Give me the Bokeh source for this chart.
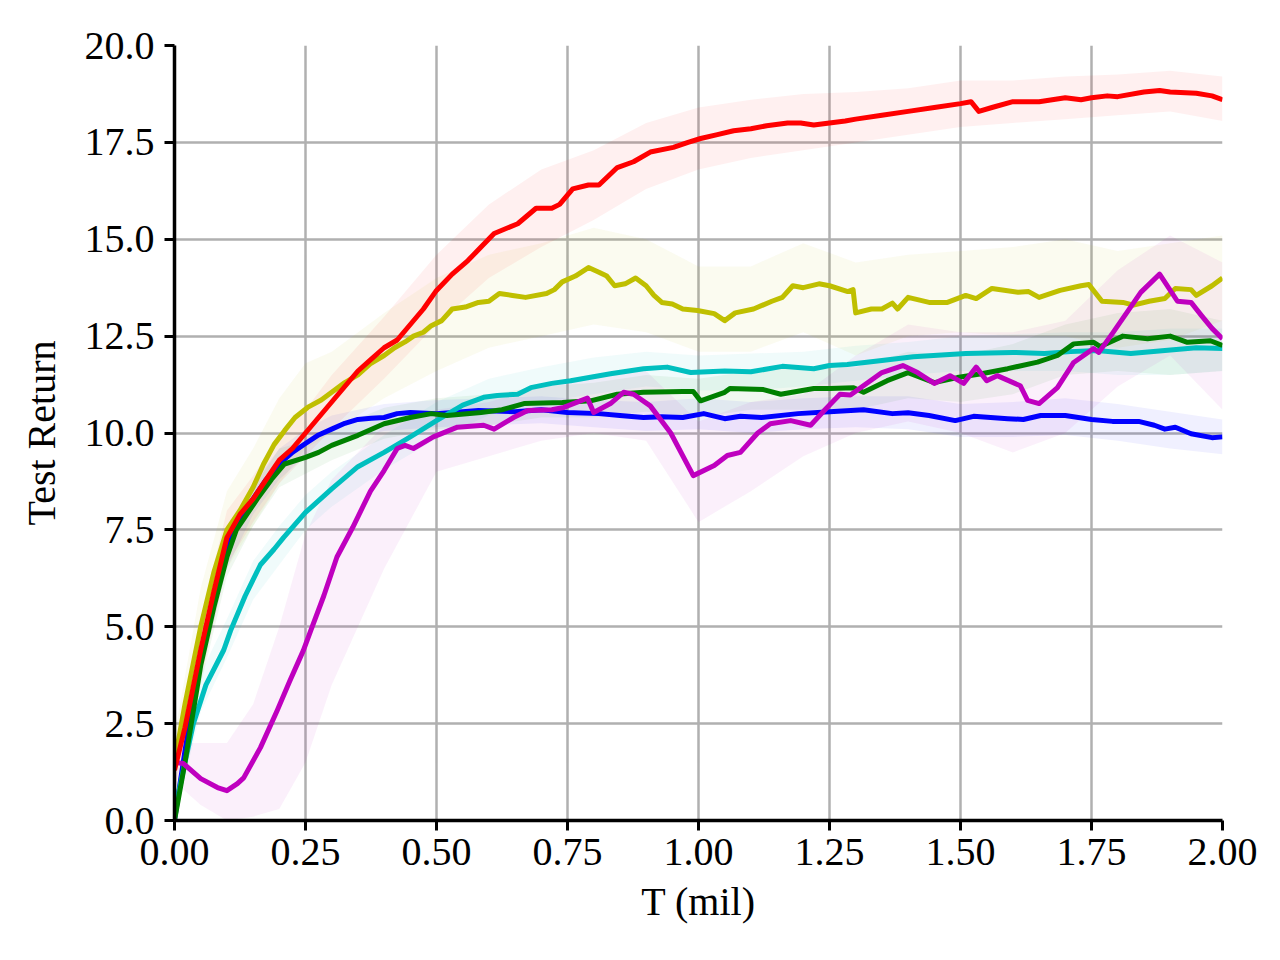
from bokeh.plotting import figure
from bokeh.models import Range1d, FixedTicker, PrintfTickFormatter
from bokeh.embed import file_html
from bokeh.resources import INLINE

# ---------------- data ----------------
red_x = [0.0, 0.02, 0.05, 0.075, 0.1, 0.125, 0.15, 0.175, 0.2, 0.225, 0.25, 0.275, 0.3, 0.325, 0.35, 0.375, 0.4, 0.425,
         0.45, 0.475, 0.5, 0.53, 0.56, 0.585, 0.61, 0.655, 0.69, 0.72, 0.735, 0.76, 0.79, 0.81, 0.845, 0.876, 0.908,
         0.952, 0.98, 1.004, 1.036, 1.067, 1.1, 1.13, 1.17, 1.195, 1.22, 1.25, 1.28, 1.3, 1.35, 1.4, 1.45, 1.5, 1.52,
         1.535, 1.56, 1.6, 1.65, 1.7, 1.73, 1.75, 1.78, 1.8, 1.85, 1.88, 1.9, 1.95, 1.98, 2.0]
red_y = [1.3, 2.4, 4.4, 5.9, 7.3, 7.9, 8.3, 8.8, 9.3, 9.6, 10.0, 10.4, 10.8, 11.2, 11.6, 11.9, 12.2, 12.4,
         12.8, 13.2, 13.68, 14.1, 14.45, 14.8, 15.15, 15.4, 15.8, 15.8, 15.9, 16.3, 16.4, 16.4, 16.85, 17.0, 17.25,
         17.37, 17.5, 17.6, 17.7, 17.8, 17.85, 17.93, 18.0, 18.0, 17.95, 18.0, 18.05, 18.1, 18.2, 18.3, 18.4, 18.5, 18.55,
         18.3, 18.4, 18.55, 18.55, 18.65, 18.6, 18.65, 18.7, 18.68, 18.8, 18.84, 18.8, 18.77, 18.7, 18.6]

yel_x = [0.0, 0.02, 0.05, 0.075, 0.1, 0.125, 0.15, 0.17, 0.19, 0.21, 0.23, 0.254, 0.28, 0.3, 0.325, 0.35, 0.375, 0.4,
         0.42, 0.44, 0.456, 0.475, 0.49, 0.51, 0.53, 0.555, 0.58, 0.6, 0.62, 0.645, 0.67, 0.71, 0.725, 0.74, 0.765,
         0.79, 0.81, 0.825, 0.84, 0.86, 0.88, 0.9, 0.915, 0.93, 0.95, 0.97, 0.998, 1.03, 1.05, 1.07, 1.105, 1.14, 1.16,
         1.18, 1.2, 1.23, 1.25, 1.285, 1.295, 1.3, 1.33, 1.35, 1.37, 1.38, 1.4, 1.44, 1.475, 1.51, 1.53, 1.56, 1.61,
         1.63, 1.65, 1.69, 1.73, 1.745, 1.77, 1.81, 1.83, 1.86, 1.89, 1.91, 1.94, 1.95, 1.98, 2.0]
yel_y = [1.5, 3.0, 5.0, 6.4, 7.5, 8.0, 8.6, 9.2, 9.7, 10.06, 10.4, 10.66, 10.85, 11.05, 11.3, 11.5, 11.8, 12.0,
         12.2, 12.35, 12.5, 12.6, 12.77, 12.9, 13.2, 13.25, 13.37, 13.4, 13.6, 13.55, 13.5, 13.6, 13.7, 13.9, 14.05,
         14.27, 14.15, 14.05, 13.8, 13.85, 14.0, 13.8, 13.55, 13.37, 13.33, 13.2, 13.16, 13.08, 12.9, 13.1, 13.2, 13.4, 13.5,
         13.8, 13.75, 13.85, 13.8, 13.65, 13.7, 13.1, 13.2, 13.2, 13.35, 13.2, 13.5, 13.37, 13.37, 13.55, 13.47, 13.73, 13.63,
         13.65, 13.5, 13.68, 13.8, 13.83, 13.4, 13.37, 13.3, 13.4, 13.47, 13.73, 13.7, 13.55, 13.8, 14.0]

blue_x = [0.0, 0.02, 0.05, 0.075, 0.1, 0.125, 0.15, 0.175, 0.2, 0.225, 0.25, 0.275, 0.3, 0.325, 0.35, 0.375, 0.4, 0.425,
          0.45, 0.5, 0.55, 0.58, 0.65, 0.7, 0.75, 0.81, 0.85, 0.895, 0.93, 0.97, 1.01, 1.05, 1.08, 1.12, 1.19, 1.25,
          1.315, 1.37, 1.4, 1.44, 1.49, 1.525, 1.59, 1.62, 1.653, 1.7, 1.75, 1.79, 1.84, 1.87, 1.89, 1.91, 1.94, 1.98, 2.0]
blue_y = [0.0, 1.8, 4.3, 5.8, 7.0, 7.8, 8.3, 8.8, 9.2, 9.5, 9.73, 9.95, 10.1, 10.25, 10.35, 10.38, 10.4, 10.5,
          10.53, 10.5, 10.55, 10.58, 10.55, 10.6, 10.53, 10.5, 10.45, 10.4, 10.42, 10.4, 10.5, 10.37, 10.43, 10.4, 10.5, 10.55,
          10.6, 10.5, 10.52, 10.45, 10.32, 10.43, 10.37, 10.35, 10.45, 10.45, 10.35, 10.3, 10.3, 10.2, 10.1, 10.15, 9.98, 9.88, 9.9]

green_x = [0.0, 0.02, 0.05, 0.075, 0.1, 0.118, 0.158, 0.185, 0.21, 0.25, 0.275, 0.3, 0.35, 0.4, 0.45, 0.49, 0.52,
           0.585, 0.625, 0.667, 0.74, 0.794, 0.845, 0.895, 0.97, 0.99, 1.004, 1.05, 1.06, 1.124, 1.157, 1.22, 1.25,
           1.296, 1.315, 1.36, 1.4, 1.45, 1.494, 1.54, 1.59, 1.647, 1.685, 1.716, 1.754, 1.767, 1.81, 1.857, 1.9,
           1.933, 1.977, 2.0]
green_y = [0.0, 1.5, 4.0, 5.5, 6.8, 7.5, 8.3, 8.8, 9.2, 9.37, 9.5, 9.68, 9.94, 10.24, 10.4, 10.5, 10.45,
           10.53, 10.6, 10.76, 10.79, 10.83, 11.0, 11.05, 11.07, 11.07, 10.83, 11.05, 11.15, 11.12, 11.0, 11.15, 11.15,
           11.17, 11.05, 11.35, 11.56, 11.3, 11.43, 11.53, 11.66, 11.83, 12.0, 12.3, 12.34, 12.23, 12.5, 12.43, 12.5,
           12.34, 12.38, 12.26]

cyan_x = [0.0, 0.02, 0.036, 0.06, 0.094, 0.107, 0.135, 0.164, 0.19, 0.208, 0.25, 0.3, 0.35, 0.4, 0.45, 0.5, 0.55,
          0.59, 0.616, 0.655, 0.68, 0.72, 0.756, 0.832, 0.895, 0.94, 0.985, 1.05, 1.1, 1.16, 1.22, 1.25, 1.284, 1.35,
          1.41, 1.51, 1.6, 1.66, 1.71, 1.76, 1.825, 1.89, 1.95, 2.0]
cyan_y = [0.2, 1.5, 2.5, 3.5, 4.4, 4.9, 5.8, 6.6, 7.0, 7.3, 7.95, 8.56, 9.13, 9.5, 9.9, 10.32, 10.72,
          10.92, 10.97, 11.0, 11.17, 11.28, 11.35, 11.53, 11.66, 11.7, 11.56, 11.6, 11.58, 11.72, 11.66, 11.74, 11.77, 11.87,
          11.97, 12.05, 12.08, 12.05, 12.1, 12.13, 12.05, 12.13, 12.2, 12.18]

mag_x = [0.0, 0.017, 0.05, 0.082, 0.1, 0.12, 0.132, 0.164, 0.196, 0.22, 0.246, 0.26, 0.285, 0.31, 0.34, 0.374, 0.4,
         0.425, 0.44, 0.456, 0.494, 0.54, 0.59, 0.61, 0.647, 0.674, 0.72, 0.743, 0.788, 0.8, 0.832, 0.857, 0.876,
         0.908, 0.947, 0.99, 1.03, 1.055, 1.08, 1.113, 1.137, 1.176, 1.214, 1.24, 1.27, 1.29, 1.35, 1.39, 1.418, 1.45,
         1.48, 1.506, 1.53, 1.55, 1.57, 1.614, 1.628, 1.65, 1.685, 1.716, 1.754, 1.764, 1.79, 1.82, 1.844, 1.88,
         1.914, 1.94, 1.96, 1.98, 2.0]
mag_y = [1.5, 1.47, 1.08, 0.85, 0.77, 0.95, 1.1, 1.88, 2.84, 3.6, 4.39, 4.9, 5.8, 6.8, 7.56, 8.5, 9.03,
         9.6, 9.68, 9.6, 9.9, 10.15, 10.2, 10.1, 10.4, 10.58, 10.6, 10.66, 10.9, 10.53, 10.76, 11.05, 11.0,
         10.7, 10.0, 8.9, 9.16, 9.42, 9.5, 10.0, 10.24, 10.32, 10.2, 10.58, 11.0, 10.98, 11.56, 11.74, 11.56, 11.28,
         11.48, 11.28, 11.7, 11.35, 11.48, 11.22, 10.84, 10.76, 11.17, 11.82, 12.18, 12.08, 12.57, 13.16, 13.63, 14.1,
         13.4, 13.37, 13.03, 12.7, 12.43]

# shaded bands (lower / upper edges)
band_x = [0.0, 0.05, 0.1, 0.15, 0.2, 0.25, 0.3, 0.4, 0.5, 0.6, 0.7, 0.8, 0.9, 1.0, 1.1, 1.2, 1.3, 1.4, 1.5, 1.6,
          1.7, 1.8, 1.9, 2.0]
red_lo = [0.8, 3.6, 6.6, 7.7, 8.7, 9.4, 10.1, 11.4, 12.8, 14.0, 14.8, 15.5, 16.3, 16.8, 17.1, 17.3, 17.5, 17.7, 17.9,
          18.0, 18.1, 18.2, 18.3, 18.05]
red_hi = [1.8, 5.2, 8.0, 8.9, 9.9, 10.6, 11.5, 13.0, 14.6, 15.9, 16.8, 17.3, 18.0, 18.4, 18.6, 18.75, 18.8, 18.9, 19.1,
          19.1, 19.2, 19.25, 19.35, 19.2]
yel_lo = [0.8, 4.0, 6.5, 7.6, 8.7, 9.6, 10.0, 10.9, 11.6, 12.2, 12.5, 12.8, 12.6, 12.1, 12.1, 12.6, 12.0, 12.5, 12.6,
          12.5, 12.5, 12.2, 12.4, 12.9]
yel_hi = [2.2, 6.0, 8.5, 9.6, 10.9, 11.8, 12.1, 13.1, 14.0, 14.6, 14.9, 15.3, 15.0, 14.3, 14.3, 14.9, 14.4, 14.6, 14.7,
          14.8, 15.0, 14.7, 14.9, 15.1]
blue_lo = [0.0, 3.8, 6.5, 7.9, 8.8, 9.4, 9.75, 10.05, 10.15, 10.2, 10.25, 10.15, 10.05, 10.1, 10.0, 10.1, 10.15, 10.1,
           9.9, 9.9, 9.95, 9.8, 9.6, 9.45]
blue_hi = [0.4, 4.8, 7.5, 8.7, 9.6, 10.1, 10.45, 10.75, 10.85, 10.9, 10.95, 10.85, 10.8, 10.9, 10.8, 10.9, 10.95, 10.95,
           10.75, 10.8, 10.9, 10.75, 10.55, 10.35]
green_lo = [0.0, 3.5, 6.3, 7.6, 8.6, 8.95, 9.3, 9.85, 10.1, 10.2, 10.4, 10.4, 10.55, 10.4, 10.6, 10.6, 10.6, 10.9, 10.8,
            11.0, 11.5, 11.6, 11.5, 11.6]
green_hi = [0.5, 4.5, 7.3, 8.6, 9.6, 9.8, 10.1, 10.65, 10.9, 11.0, 11.2, 11.3, 11.5, 11.4, 11.6, 11.7, 11.7, 12.1, 12.0,
            12.3, 12.8, 13.1, 13.2, 12.9]
cyan_lo = [0.0, 2.8, 4.2, 5.7, 6.6, 7.5, 8.1, 9.05, 9.85, 10.45, 10.8, 11.0, 11.2, 11.1, 11.1, 11.2, 11.35, 11.5, 11.6,
           11.6, 11.6, 11.5, 11.5, 11.6]
cyan_hi = [0.6, 3.8, 5.2, 6.7, 7.6, 8.4, 9.0, 9.95, 10.8, 11.4, 11.7, 11.95, 12.1, 12.0, 12.05, 12.1, 12.25, 12.35, 12.5,
           12.55, 12.6, 12.6, 12.7, 12.7]
mag_lo = [1.0, 0.4, 0.0, 0.1, 0.3, 1.5, 3.5, 6.5, 9.0, 9.4, 9.8, 10.0, 9.8, 7.7, 8.5, 9.4, 10.0, 10.3, 10.0, 9.5, 10.0,
          11.2, 12.0, 10.6]
mag_hi = [2.0, 2.0, 2.0, 3.0, 5.0, 7.4, 8.8, 10.2, 10.6, 10.8, 11.2, 11.5, 11.6, 10.3, 10.8, 11.0, 12.0, 12.8, 12.6, 12.6,
          12.9, 14.2, 15.1, 14.4]

x_ticks = [0.0, 0.25, 0.5, 0.75, 1.0, 1.25, 1.5, 1.75, 2.0]
y_ticks = [0.0, 2.5, 5.0, 7.5, 10.0, 12.5, 15.0, 17.5, 20.0]

# ---------------- figure ----------------
FONT = "Liberation Serif"
p = figure(width=1272, height=948, output_backend="svg", toolbar_location=None,
           x_range=Range1d(0, 2.0), y_range=Range1d(0, 20.0),
           min_border_left=174, min_border_right=50, min_border_top=45, min_border_bottom=128)
p.outline_line_color = None
p.background_fill_color = "white"
p.border_fill_color = "white"

for g in (p.xgrid, p.ygrid):
    g.grid_line_color = "#b0b0b0"
    g.grid_line_width = 2.5
p.xgrid.ticker = FixedTicker(ticks=x_ticks)
p.ygrid.ticker = FixedTicker(ticks=y_ticks)

p.xaxis.ticker = FixedTicker(ticks=x_ticks)
p.yaxis.ticker = FixedTicker(ticks=y_ticks)
p.xaxis.formatter = PrintfTickFormatter(format="%.2f")
p.yaxis.formatter = PrintfTickFormatter(format="%.1f")
p.xaxis.axis_label = "T (mil)"
p.yaxis.axis_label = "Test Return"
for ax in (p.xaxis, p.yaxis):
    ax.axis_line_color = "black"
    ax.axis_line_width = 3.5
    ax.major_tick_line_color = "black"
    ax.major_tick_line_width = 3
    ax.major_tick_out = 10
    ax.major_tick_in = 0
    ax.minor_tick_line_color = None
    ax.major_label_text_font = FONT
    ax.major_label_text_font_size = "40px"
    ax.major_label_text_color = "black"
    ax.axis_label_text_font = FONT
    ax.axis_label_text_font_size = "40px"
    ax.axis_label_text_font_style = "normal"
    ax.axis_label_text_color = "black"
p.yaxis.major_label_standoff = 10
p.yaxis.axis_label_standoff = 18
p.xaxis.major_label_standoff = 8
p.xaxis.axis_label_standoff = 11

series = [
    ("#0000ff", blue_x, blue_y, blue_lo, blue_hi),
    ("#00bfbf", cyan_x, cyan_y, cyan_lo, cyan_hi),
    ("#008000", green_x, green_y, green_lo, green_hi),
    ("#bfbf00", yel_x, yel_y, yel_lo, yel_hi),
    ("#bf00bf", mag_x, mag_y, mag_lo, mag_hi),
    ("#ff0000", red_x, red_y, red_lo, red_hi),
]

for color, xs, ys, lo, hi in series:
    p.varea(x=band_x, y1=lo, y2=hi, fill_color=color, fill_alpha=0.06)

for color, xs, ys, lo, hi in series:
    p.line(xs, ys, line_color=color, line_width=5, line_join="round")

open("out.html", "w").write(file_html(p, INLINE))
